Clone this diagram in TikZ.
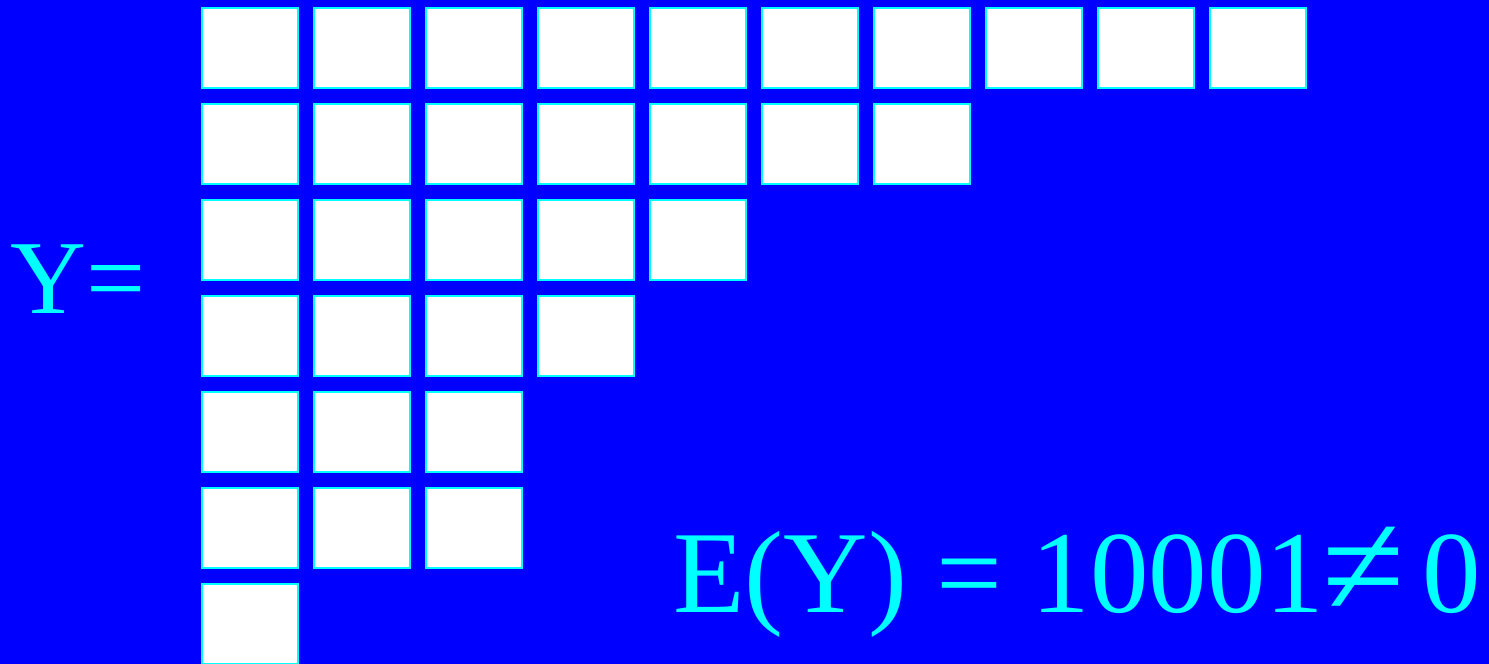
\documentclass[tikz,border=0pt]{standalone}
\usepackage{fontspec}
\setmainfont{Liberation Serif}
\definecolor{bgblue}{RGB}{0,0,255}
\definecolor{cyanc}{RGB}{0,255,255}
\tikzset{
  cell/.style={draw=cyanc, line width=2pt, fill=white, minimum width=96pt, minimum height=80pt, inner sep=0pt, outer sep=0pt},
  lbl/.style={text=cyanc, inner sep=0pt, anchor=base west}
}
\begin{document}
\begin{tikzpicture}[x=1pt,y=-1pt]
\useasboundingbox (0,0) rectangle (1489,664);
\fill[bgblue] (0,0) rectangle (1489,664);
\foreach \r/\n in {0/10,1/7,2/5,3/4,4/3,5/3,6/1}{
  \foreach \c in {1,...,\n}{
    \node[cell] (b\r-\c) at ({250+112*(\c-1)},{48+96*\r}) {};
  }
}
\node[lbl, font=\fontsize{105}{110}\selectfont] (ylabel) at (10,313) {Y=};
\node[lbl, font=\fontsize{117}{120}\selectfont] (eq) at (673,612) {E(Y) = 10001\hspace{-2pt}{\fontsize{150}{150}\selectfont\raisebox{-4pt}{≠}}\hspace{-11pt} 0};
\end{tikzpicture}
\end{document}
